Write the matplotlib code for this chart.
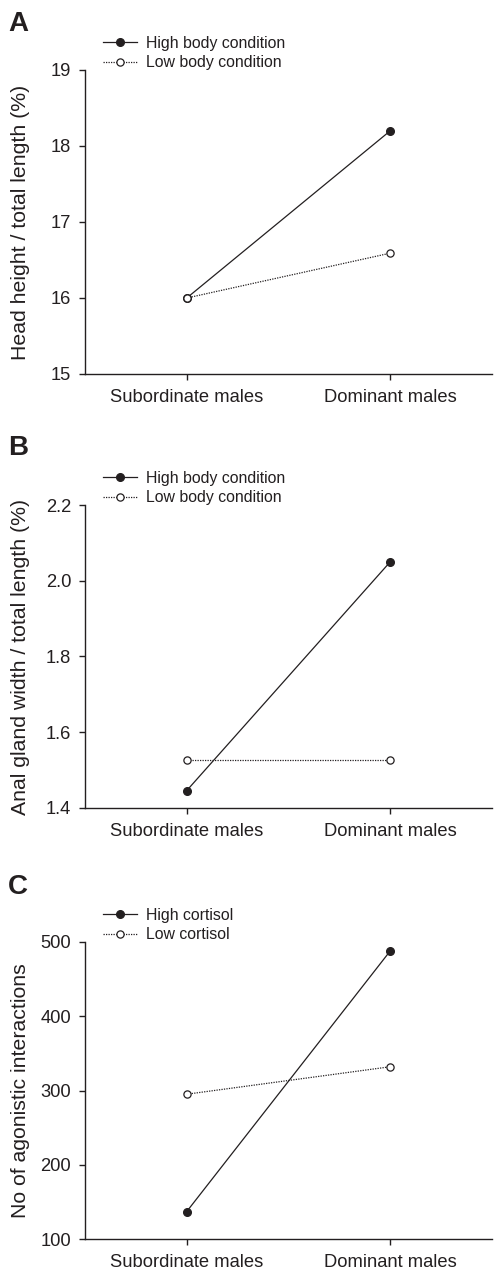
import matplotlib
matplotlib.use("Agg")
import matplotlib.pyplot as plt

plt.rcParams['font.family'] = ['Liberation Sans', 'DejaVu Sans']

groups = ["Subordinate males", "Dominant males"]

# panel A
head_high = [16.0, 18.2]
head_low = [16.0, 16.59]
# panel B
gland_high = [1.446, 2.05]
gland_low = [1.526, 1.526]
# panel C
agon_high = [137, 488]
agon_low = [295, 332]

ink = "#231f20"

panels = [
    ("A", head_high, head_low, "High body condition", "Low body condition",
     "Head height / total length (%)", (15, 19), [15, 16, 17, 18, 19], "{:.0f}"),
    ("B", gland_high, gland_low, "High body condition", "Low body condition",
     "Anal gland width / total length (%)", (1.4, 2.2), [1.4, 1.6, 1.8, 2.0, 2.2], "{:.1f}"),
    ("C", agon_high, agon_low, "High cortisol", "Low cortisol",
     "No of agonistic interactions", (100, 500), [100, 200, 300, 400, 500], "{:.0f}"),
]

# axes boxes in pixels: (top, bottom)
boxes = [(70, 374), (505, 808), (942, 1239)]
letter_y = [24, 448, 887]
W, H = 498, 1273
left, right = 85, 492

fig = plt.figure(figsize=(W / 100, H / 100), dpi=100)

for (lab, hi, lo, lhi, llo, ylab, ylim, yt, fmt), (top, bot), ly in zip(panels, boxes, letter_y):
    ax = fig.add_axes([left / W, 1 - bot / H, (right - left) / W, (bot - top) / H])
    x = range(len(groups))
    ax.plot(x, hi, color=ink, lw=0.9, ls="-", marker="o", ms=5.5,
            mfc=ink, mec=ink, label=lhi, zorder=3)
    ax.plot(x, lo, color=ink, lw=0.9, ls=(0, (1, 1)), marker="o", ms=5.2,
            mfc="white", mec=ink, mew=0.9, label=llo, zorder=4)
    ax.set_xlim(-0.5, 1.5)
    ax.set_ylim(*ylim)
    ax.set_yticks(yt)
    ax.set_yticklabels([fmt.format(v) for v in yt])
    ax.set_xticks(list(x))
    ax.set_xticklabels(groups)
    for s in ["top", "right"]:
        ax.spines[s].set_visible(False)
    for s in ["left", "bottom"]:
        ax.spines[s].set_color(ink)
        ax.spines[s].set_linewidth(1.0)
    ax.tick_params(axis="both", colors=ink, labelsize=13.2, length=4, width=1.0,
                   direction="out", pad=6)
    ax.tick_params(axis="x", pad=7)
    ax.set_ylabel(ylab, fontsize=15.3, color=ink)
    ax.yaxis.set_label_coords(-(left - 30) / (right - left), 0.5)
    leg = ax.legend(loc="upper left", bbox_to_anchor=(103 / W, 1 - (top - 34) / H),
                    bbox_transform=fig.transFigure, frameon=False, fontsize=11.4,
                    handlelength=2.15, handletextpad=0.55, labelspacing=0.28,
                    borderpad=0, borderaxespad=0)
    for t in leg.get_texts():
        t.set_color(ink)
    fig.text(8 / W, 1 - ly / H, lab, fontsize=20, fontweight="bold", color=ink,
             va="center", ha="left")

fig.savefig("out.png", dpi=100)
